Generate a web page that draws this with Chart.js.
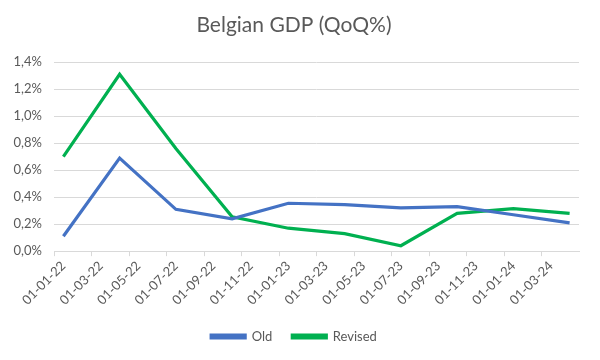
<!DOCTYPE html>
<html>
<head>
<meta charset="utf-8">
<script src="https://cdn.jsdelivr.net/npm/chart.js@4"></script>
<style>
html,body{margin:0;padding:0;background:#fff;}
#wrap{width:600px;height:360px;}
</style>
</head>
<body>
<div id="wrap"><canvas id="c" width="600" height="360"></canvas></div>
<script>
const months = ['01-01-22','01-02-22','01-03-22','01-04-22','01-05-22','01-06-22','01-07-22','01-08-22','01-09-22','01-10-22','01-11-22','01-12-22',
  '01-01-23','01-02-23','01-03-23','01-04-23','01-05-23','01-06-23','01-07-23','01-08-23','01-09-23','01-10-23','01-11-23','01-12-23',
  '01-01-24','01-02-24','01-03-24','01-04-24'];
const quarters = ['01-01-22','01-04-22','01-07-22','01-10-22','01-01-23','01-04-23','01-07-23','01-10-23','01-01-24','01-04-24'];
const oldVals = [0.11,0.69,0.31,0.24,0.355,0.345,0.32,0.33,0.27,0.21];
const revisedVals = [0.70,1.31,0.76,0.255,0.17,0.13,0.04,0.28,0.315,0.28];
const yTicks = [0,0.2,0.4,0.6,0.8,1.0,1.2,1.4];

const FONT = 'Lato, "Open Sans", sans-serif';
const TXT = '#595959';
const GRID = '#d9d9d9';

const toPts = vals => quarters.map((q,i)=>({x:q,y:vals[i]}));

new Chart(document.getElementById('c'), {
  type:'line',
  data:{
    labels: months,
    datasets:[
      {label:'Old', data: toPts(oldVals), borderColor:'#4472C4', backgroundColor:'#4472C4', borderWidth:3.2, pointRadius:0, tension:0},
      {label:'Revised', data: toPts(revisedVals), borderColor:'#00B050', backgroundColor:'#00B050', borderWidth:3.2, pointRadius:0, tension:0}
    ]
  },
  options:{
    responsive:false,
    animation:false,
    layout:{padding:{left:9,right:21,top:5,bottom:7}},
    plugins:{
      title:{display:true, text:'Belgian GDP (QoQ%)', color:TXT, font:{family:FONT,size:21,weight:'normal'}, padding:{top:8,bottom:24}},
      legend:{position:'bottom', labels:{color:TXT, font:{family:FONT,size:13}, boxWidth:34, boxHeight:3, padding:20}},
      tooltip:{enabled:false}
    },
    scales:{
      x:{
        type:'category',
        offset:true,
        grid:{drawOnChartArea:false, offset:true, tickLength:5, tickColor:(ctx)=> (ctx.index%2===0 ? GRID : 'rgba(0,0,0,0)')},
        border:{color:GRID},
        ticks:{autoSkip:false, maxRotation:45, minRotation:45, color:TXT, font:{family:FONT,size:13}, padding:2,
          callback:function(v,i){ return i%2===0 ? this.getLabelForValue(v) : ''; }}
      },
      y:{
        min:0, max:1.4,
        afterBuildTicks:(ax)=>{ax.ticks = yTicks.map(v=>({value:v}));},
        grid:{color:GRID, drawTicks:false},
        border:{display:false},
        ticks:{color:TXT, font:{family:FONT,size:13}, padding:12, callback:v=>v.toFixed(1).replace('.',',')+'%'},
        afterFit:(ax)=>{ax.width=45;}
      }
    }
  }
});
</script>
</body>
</html>
